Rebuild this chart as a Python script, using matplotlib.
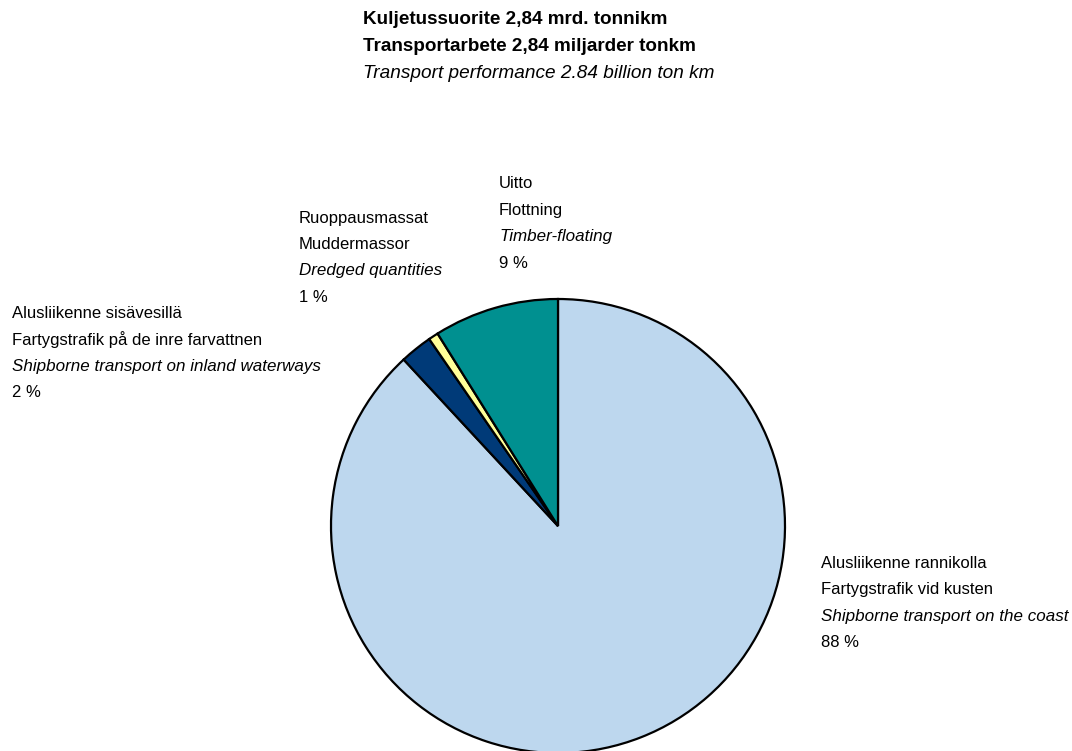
import matplotlib.pyplot as plt

# shares of transport performance, clockwise from top
shares = [88.1, 2.3, 0.7, 8.9]
names_fi = ["Alusliikenne rannikolla", "Alusliikenne sisävesillä", "Ruoppausmassat", "Uitto"]
names_sv = ["Fartygstrafik vid kusten", "Fartygstrafik på de inre farvattnen", "Muddermassor", "Flottning"]
names_en = ["Shipborne transport on the coast", "Shipborne transport on inland waterways",
            "Dredged quantities", "Timber-floating"]
colors = ["#bdd7ee", "#003a78", "#ffff99", "#009090"]

title_lines = ["Kuljetussuorite 2,84 mrd. tonnikm", "Transportarbete 2,84 miljarder tonkm",
               "Transport performance 2.84 billion ton km"]

# label block anchors in pixels (left x, y of first line)
label_pos = [(821, 563), (12, 313), (299, 218), (499, 184)]

plt.rcParams["font.family"] = ["Liberation Sans", "DejaVu Sans"]

W, H = 1072, 751
fig = plt.figure(figsize=(W / 100, H / 100), dpi=100)

cx, cy, r = 558, 526, 227
ax = fig.add_axes([(cx - r) / W, (H - cy - r) / H, 2 * r / W, 2 * r / H])
ax.pie(shares, colors=colors, startangle=90, counterclock=False,
       wedgeprops=dict(edgecolor="black", linewidth=1.6))
ax.set_xlim(-1, 1)
ax.set_ylim(-1, 1)
ax.set_aspect("equal")
ax.axis("off")


def put(x, y, s, **kw):
    fig.text(x / W, 1 - y / H, s, ha="left", va="center", **kw)


step = 26.5
for i, line in enumerate(title_lines):
    if i < 2:
        put(363, 20 + i * step, line, fontsize=13.6, fontweight="bold")
    else:
        put(363, 20 + i * step, line, fontsize=13.7, style="italic")

for (x, y), fi, sv, en, v in zip(label_pos, names_fi, names_sv, names_en, shares):
    put(x, y, fi, fontsize=12)
    put(x, y + step, sv, fontsize=12)
    put(x, y + 2 * step, en, fontsize=12.25, style="italic")
    put(x, y + 3 * step, f"{v:.0f} %", fontsize=12)

fig.savefig("out.png", dpi=100)
